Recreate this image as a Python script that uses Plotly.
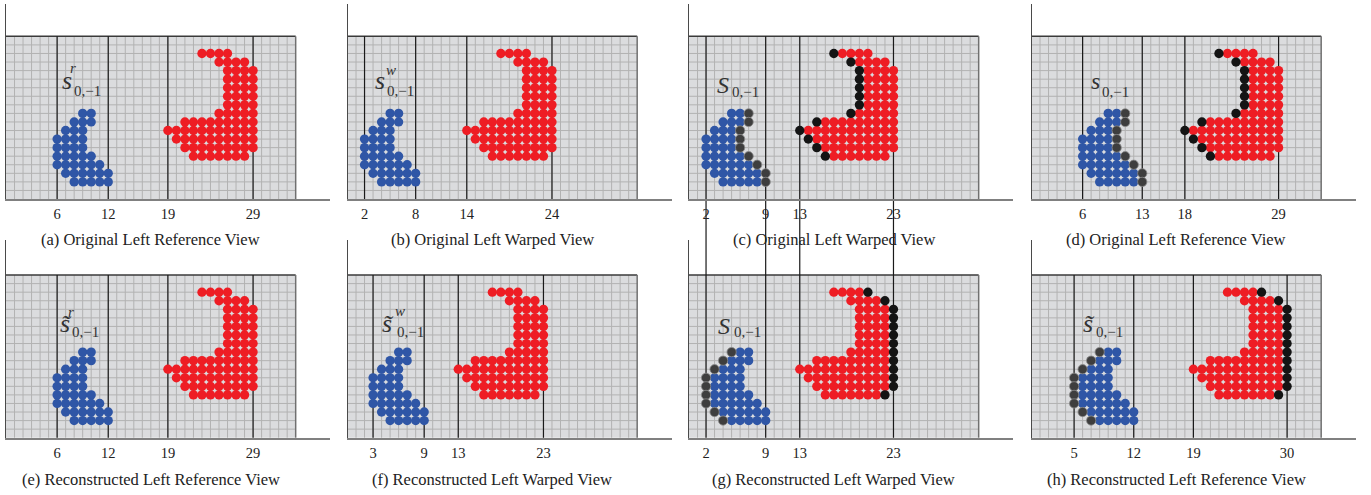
import plotly.graph_objects as go

FIG_W, FIG_H = 1371, 495
CELL_X, CELL_Y = 8.52, 8.56          # pixels per grid cell
GRID_COLS, GRID_ROWS = 34, 19
SERIF = "Liberation Serif, Times New Roman, serif"

captions = [
    "(a) Original Left Reference View",
    "(b) Original Left Warped View",
    "(c) Original Left Warped View",
    "(d) Original Left Reference View",
    "(e) Reconstructed Left Reference View",
    "(f) Reconstructed Left Warped View",
    "(g) Reconstructed Left Warped View",
    "(h) Reconstructed Left Reference View",
]
tick_positions = [
    [6, 12, 19, 29], [2, 8, 14, 24], [2, 9, 13, 24], [6, 13, 18, 29],
    [6, 12, 19, 29], [3, 9, 13, 23], [2, 9, 13, 24], [5, 12, 19, 30],
]
tick_labels = [
    ["6", "12", "19", "29"], ["2", "8", "14", "24"], ["2", "9", "13", "23"], ["6", "13", "18", "29"],
    ["6", "12", "19", "29"], ["3", "9", "13", "23"], ["2", "9", "13", "23"], ["5", "12", "19", "30"],
]

# object pixels as scanlines: row (counted from the top), first column, last column
blue_rows = [9, 10, 11, 12, 13, 14, 15, 16, 17]
blue_first = [9, 8, 7, 6, 6, 6, 6, 7, 8]
blue_last = [10, 10, 9, 9, 9, 10, 11, 12, 12]
red_rows = [2, 3, 4, 5, 6, 7, 8, 9, 10, 11, 12, 13, 14]
red_first = [23, 25, 26, 26, 26, 26, 26, 25, 21, 19, 20, 21, 22]
red_last = [26, 28, 29, 29, 29, 29, 29, 29, 29, 29, 29, 29, 28]

# horizontal displacement of each object in every panel
blue_offset = [0, -4, -4, 0, 0, -3, -3, 0]
red_offset = [0, -5, -5, 0, 0, -6, -6, 0]
# side where the boundary pixels are marked
blue_border = [None, None, "right", "right", None, None, "left", "left"]
red_border = [None, None, "left", "left", None, None, "right", "right"]

# subplot geometry in pixels
col_left = [6, 347.5, 689, 1031.5]
AXIS_LEN = 324
row_top = [4, 240]
row_bottom = [199, 437.7]

BLUE, RED = "#2f56a6", "#ee1d24"
BLUE_EDGE, RED_EDGE = "#3e3e3e", "#141414"
DOT = 9.3


def px_x(p):
    return p / FIG_W


def px_y(p):
    return 1 - p / FIG_H


def scan_points(rows, first, last, shift):
    xs, ys = [], []
    for r, a, b in zip(rows, first, last):
        for c in range(a, b + 1):
            xs.append(c + shift)
            ys.append(GRID_ROWS - r)
    return xs, ys


def border_points(rows, first, last, shift, side):
    xs, ys = [], []
    for r, a, b in zip(rows, first, last):
        xs.append((a - 1 if side == "left" else b + 1) + shift)
        ys.append(GRID_ROWS - r)
    return xs, ys


fig = go.Figure()
shapes = []
annotations = []
layout_axes = {}

for i in range(8):
    n = i + 1
    col, row = i % 4, i // 4
    left = col_left[col]
    top, bottom = row_top[row], row_bottom[row]
    xa, ya = f"x{n}", f"y{n}"
    xkey = "xaxis" if n == 1 else f"xaxis{n}"
    ykey = "yaxis" if n == 1 else f"yaxis{n}"

    layout_axes[xkey] = dict(
        domain=[px_x(left), px_x(left + AXIS_LEN)],
        range=[0, AXIS_LEN / CELL_X], anchor=ya,
        showgrid=False, zeroline=False, showline=True,
        linecolor="#808080", linewidth=2, ticks="",
        tickvals=tick_positions[i], ticktext=tick_labels[i],
        tickfont=dict(family=SERIF, size=14.5, color="#222"),
        ticklabelstandoff=1, fixedrange=True,
    )
    layout_axes[ykey] = dict(
        domain=[px_y(bottom), px_y(top)],
        range=[0, (bottom - top) / CELL_Y], anchor=xa,
        showgrid=False, zeroline=False, showline=True,
        linecolor="#4a4a4a", linewidth=1, ticks="",
        showticklabels=False, fixedrange=True,
    )

    y0 = px_y(bottom)
    y1 = px_y(bottom - GRID_ROWS * CELL_Y)

    # grey canvas
    shapes.append(dict(type="rect", xref=xa, yref="paper", x0=0, x1=GRID_COLS,
                       y0=y0, y1=y1, fillcolor="#dbdcde", line_width=0, layer="below"))
    # pixel grid
    path = []
    for j in range(1, GRID_COLS):
        path.append(f"M{j},{y0} L{j},{y1}")
    for k in range(1, GRID_ROWS):
        yk = px_y(bottom - k * CELL_Y)
        path.append(f"M0,{yk} L{GRID_COLS},{yk}")
    shapes.append(dict(type="path", xref=xa, yref="paper", path=" ".join(path),
                       line=dict(color="#b2b2b2", width=1), layer="below"))
    # frame on top and right
    shapes.append(dict(type="line", xref=xa, yref="paper", x0=0, x1=GRID_COLS,
                       y0=y1, y1=y1, line=dict(color="#3a3a3a", width=1.5), layer="below"))
    shapes.append(dict(type="line", xref=xa, yref="paper", x0=GRID_COLS, x1=GRID_COLS,
                       y0=y0, y1=y1, line=dict(color="#707070", width=1.5), layer="below"))

    # object pixels
    bx, by = scan_points(blue_rows, blue_first, blue_last, blue_offset[i])
    rx, ry = scan_points(red_rows, red_first, red_last, red_offset[i])
    fig.add_trace(go.Scatter(x=bx, y=by, mode="markers", xaxis=xa, yaxis=ya,
                             marker=dict(size=DOT, color=BLUE, line_width=0),
                             hoverinfo="skip", showlegend=False))
    fig.add_trace(go.Scatter(x=rx, y=ry, mode="markers", xaxis=xa, yaxis=ya,
                             marker=dict(size=DOT, color=RED, line_width=0),
                             hoverinfo="skip", showlegend=False))
    if blue_border[i]:
        ex, ey = border_points(blue_rows, blue_first, blue_last, blue_offset[i], blue_border[i])
        fig.add_trace(go.Scatter(x=ex, y=ey, mode="markers", xaxis=xa, yaxis=ya,
                                 marker=dict(size=DOT, color=BLUE_EDGE,
                                             line=dict(color="#8c8c8c", width=0.8)),
                                 hoverinfo="skip", showlegend=False))
    if red_border[i]:
        ex, ey = border_points(red_rows, red_first, red_last, red_offset[i], red_border[i])
        fig.add_trace(go.Scatter(x=ex, y=ey, mode="markers", xaxis=xa, yaxis=ya,
                                 marker=dict(size=DOT, color=RED_EDGE, line_width=0),
                                 hoverinfo="skip", showlegend=False))

    # caption
    annotations.append(dict(text=captions[i], xref="paper", yref="paper",
                            x=px_x(left + GRID_COLS * CELL_X / 2),
                            y=px_y(239.5 if row == 0 else 479),
                            xanchor="center", yanchor="middle", showarrow=False,
                            font=dict(family=SERIF, size=16.5, color="#222")))

# division lines of every panel; the third column shares one set spanning both rows
for i in range(8):
    n = i + 1
    col, row = i % 4, i // 4
    if col == 2 and row == 1:
        continue
    bottom = row_bottom[row]
    y0 = px_y(bottom)
    y1 = px_y(bottom - GRID_ROWS * CELL_Y)
    if col == 2:
        y0 = px_y(row_bottom[1])
    path = " ".join(f"M{t},{y0} L{t},{y1}" for t in tick_positions[i])
    shapes.append(dict(type="path", xref=f"x{n}", yref="paper", path=path,
                       line=dict(color="#1a1a1a", width=1.2), layer="below"))

# symbol labels: (text, x px, y px, size, italic, anchor)
S_TILDE = "s\u0303"
symbol_labels = [
    ("s", 66.7, 81, 26, True, "center"), ("r", 72.5, 67.5, 15, True, "center"),
    ("0,−1", 72, 91, 15, False, "left"),
    ("s", 380, 81, 26, True, "center"), ("w", 390.5, 70, 15, True, "center"),
    ("0,−1", 385, 91.5, 15, False, "left"),
    ("S", 722.5, 84.5, 24, True, "center"), ("0,−1", 730, 92, 15, False, "left"),
    ("s", 1095.5, 80.5, 24, True, "center"), ("0,−1", 1100, 92, 15, False, "left"),
    (S_TILDE, 65.5, 323, 26, True, "center"),
    ("r", 71, 311.5, 15, True, "center"), ("0,−1", 70, 331.5, 15, False, "left"),
    (S_TILDE, 387.7, 323, 26, True, "center"),
    ("w", 399.5, 310.5, 15, True, "center"), ("0,−1", 395, 332, 15, False, "left"),
    ("S", 724, 325.5, 24, True, "center"), ("0,−1", 731.7, 332, 15, False, "left"),
    (S_TILDE, 1089, 323, 26, True, "center"),
    ("0,−1", 1094, 332, 15, False, "left"),
]
for text, x, y, size, italic, anchor in symbol_labels:
    annotations.append(dict(text=f"<i>{text}</i>" if italic else text,
                            xref="paper", yref="paper", x=px_x(x), y=px_y(y),
                            xanchor=anchor, yanchor="middle", showarrow=False,
                            font=dict(family=SERIF, size=size, color="#333")))

fig.update_layout(
    width=FIG_W, height=FIG_H, autosize=False,
    margin=dict(l=0, r=0, t=0, b=0, pad=0),
    paper_bgcolor="white", plot_bgcolor="rgba(0,0,0,0)",
    showlegend=False, shapes=shapes, annotations=annotations,
    **layout_axes,
)

fig.write_html("out.html")
